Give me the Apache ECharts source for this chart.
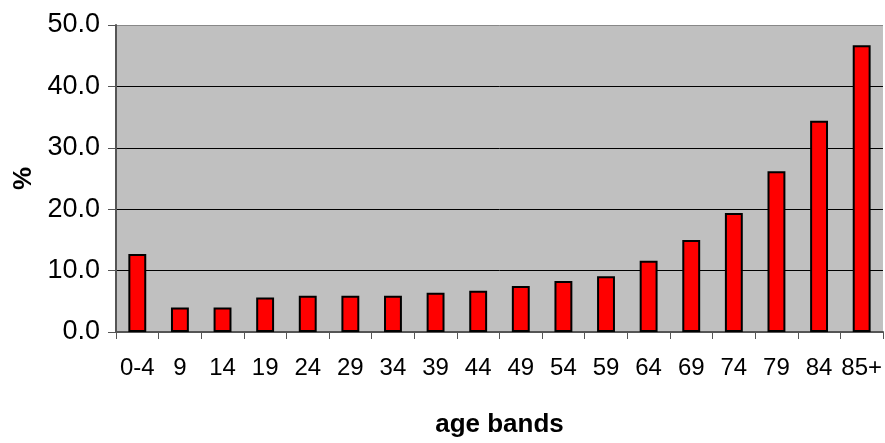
<!DOCTYPE html>
<html>
<head>
<meta charset="utf-8">
<script src="https://cdn.jsdelivr.net/npm/echarts@6/dist/echarts.min.js"></script>
<style>
  html, body { margin: 0; padding: 0; background: #fff; }
  #chart { width: 885px; height: 443px; }
</style>
</head>
<body>
<div id="chart"></div>
<script>
  var ageBands = ['0-4', '9', '14', '19', '24', '29', '34', '39', '44', '49', '54', '59', '64', '69', '74', '79', '84', '85+'];
  var percentValues = [12.7, 4.0, 4.0, 5.6, 5.9, 5.9, 5.9, 6.4, 6.7, 7.5, 8.3, 9.1, 11.6, 15.0, 19.4, 26.2, 34.4, 46.7];
  var yTicks = { min: 0, max: 50, interval: 10 };

  var chart = echarts.init(document.getElementById('chart'));
  var font = 'Liberation Sans, Arial, sans-serif';

  var option = {
    backgroundColor: '#FFFFFF',
    animation: false,
    grid: {
      left: 116,
      right: 1,
      top: 25,
      bottom: 108,
      show: true,
      backgroundColor: '#C0C0C0',
      borderWidth: 0
    },
    xAxis: {
      type: 'category',
      data: ageBands,
      boundaryGap: true,
      name: 'age bands',
      nameLocation: 'middle',
      nameGap: 80,
      nameTextStyle: { fontFamily: font, fontSize: 26, fontWeight: 'bold', color: '#000' },
      axisLine: { lineStyle: { color: '#555', width: 2 } },
      axisTick: { show: true, length: 7, lineStyle: { color: '#555', width: 1 } },
      axisLabel: { fontFamily: font, fontSize: 24, color: '#000', margin: 24, interval: 0 },
      splitLine: { show: false }
    },
    yAxis: {
      type: 'value',
      min: yTicks.min,
      max: yTicks.max,
      interval: yTicks.interval,
      name: '%',
      nameLocation: 'middle',
      nameRotate: 90,
      nameGap: 78,
      nameTextStyle: { fontFamily: font, fontSize: 26, fontWeight: 'bold', color: '#000' },
      axisLine: { show: true, lineStyle: { color: '#555', width: 2 } },
      axisTick: { show: true, length: 8, lineStyle: { color: '#555', width: 1 } },
      axisLabel: {
        fontFamily: font, fontSize: 27, color: '#000', margin: 16,
        formatter: function (v) { return v.toFixed(1); }
      },
      splitLine: { show: true, lineStyle: { color: ['#000', '#000', '#000', '#000', '#000', '#888'], width: 1 } }
    },
    series: [
      {
        type: 'bar',
        data: percentValues,
        barWidth: '42%',
        itemStyle: { color: '#FF0000', borderColor: '#000', borderWidth: 2 }
      }
    ]
  };

  chart.setOption(option);
</script>
</body>
</html>
